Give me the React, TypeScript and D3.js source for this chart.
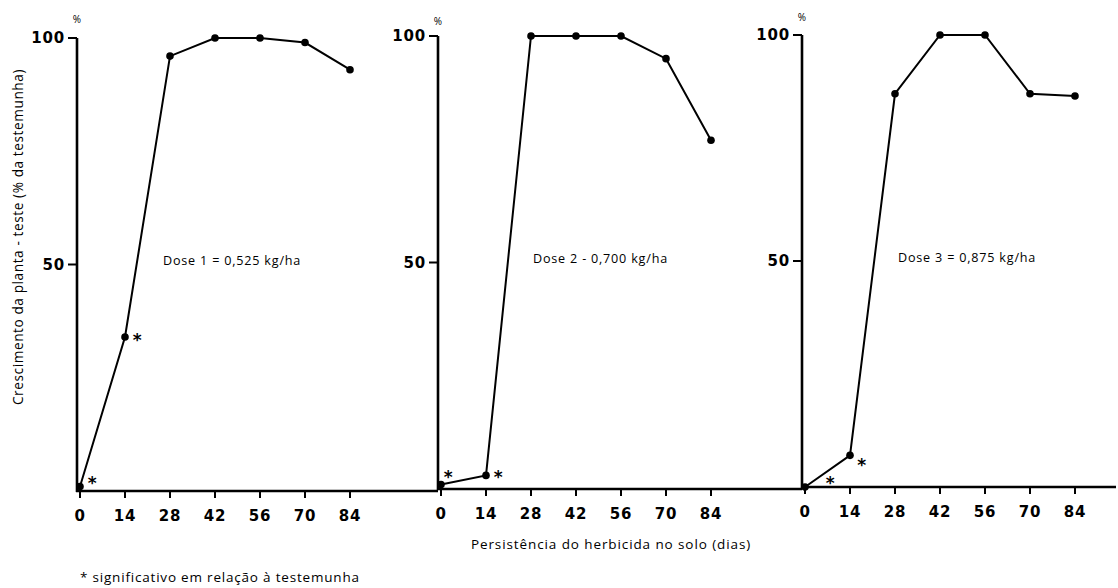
import React from 'react';
import * as d3 from 'd3';

// ---- data ----
const days = [0, 14, 28, 42, 56, 70, 84];
const dose1 = [1, 34, 96, 100, 100, 99, 93];
const dose2 = [1, 3, 100, 100, 100, 95, 77];
const dose3 = [0, 7, 87, 100, 100, 87, 86.5];
const doseLabels = ['Dose 1 = 0,525 kg/ha', 'Dose 2 - 0,700 kg/ha', 'Dose 3 = 0,875 kg/ha'];
const yTicks = [50, 100];
const xTicks = [0, 14, 28, 42, 56, 70, 84];
// significance marks, [day, value]
const stars1 = [[3.8, 2.3], [17.8, 34]];
const stars2 = [[2.2, 3.3], [17.8, 3.3]];
const stars3 = [[7.8, 1.6], [17.6, 5.6]];
const yTitle = 'Crescimento da planta - teste (% da testemunha)';
const xTitle = 'Persistência do herbicida no solo (dias)';
const footnote = '* significativo em relação à testemunha';

const series = [dose1, dose2, dose3];
const stars = [stars1, stars2, stars3];

// ---- layout ----
const W = 1118;
const H = 588;
const axisX = [77, 438, 802];
const baseY = [491, 489, 487];
const topY = [38, 36, 35];
const axisEnd = [438, 802, 1116];
const labelDx = [86, 95, 96];
const pctY = [23, 25, 21];

const tickFont = "'DejaVu Sans', sans-serif";
const textFont = "'Open Sans', 'Liberation Sans', sans-serif";

function Panel({ i }: { i: number }) {
  const ax = axisX[i];
  const x = d3.scaleLinear().domain([0, 84]).range([ax + 3, ax + 273]);
  const y = d3.scaleLinear().domain([0, 100]).range([baseY[i], topY[i]]);
  const data = days.map((d, k) => [d, series[i][k]] as [number, number]);
  const line = d3.line<[number, number]>().x(d => x(d[0])).y(d => y(d[1]));
  return (
    <g>
      {/* y axis */}
      <line x1={ax} x2={ax} y1={y(0) + 1} y2={y(100)} stroke="#000" strokeWidth={2.6} />
      {yTicks.map(t => (
        <g key={t}>
          <line x1={ax - 9} x2={ax} y1={y(t)} y2={y(t)} stroke="#000" strokeWidth={2} />
          <text x={ax - 12} y={y(t)} dy="0.36em" textAnchor="end" fontFamily={tickFont}
            fontWeight="bold" fontSize={15} letterSpacing={0.8} fill="#000">{t}</text>
        </g>
      ))}
      <text x={ax} y={pctY[i]} textAnchor="middle" fontFamily={textFont} fontSize={10} fill="#000">%</text>
      {/* x axis */}
      <line x1={ax - 1} x2={axisEnd[i]} y1={y(0)} y2={y(0)} stroke="#000" strokeWidth={2.6} />
      {xTicks.map(t => (
        <g key={t}>
          <line x1={x(t)} x2={x(t)} y1={y(0)} y2={y(0) + 7} stroke="#000" strokeWidth={2} />
          <text x={x(t)} y={y(0) + 30} textAnchor="middle" fontFamily={tickFont}
            fontWeight="bold" fontSize={15} letterSpacing={0.8} fill="#000">{t}</text>
        </g>
      ))}
      {/* series */}
      <path d={line(data) || ''} fill="none" stroke="#000" strokeWidth={2} />
      {data.map((d, k) => (
        <circle key={k} cx={x(d[0])} cy={y(d[1])} r={3.8} fill="#000" />
      ))}
      {stars[i].map((s, k) => (
        <text key={k} x={x(s[0])} y={y(s[1])} dy="0.52em" textAnchor="middle"
          fontFamily={tickFont} fontWeight="bold" fontSize={17} fill="#000">*</text>
      ))}
      <text x={ax + labelDx[i]} y={y(50) + 0.5} fontFamily={textFont} fontSize={12.6}
        letterSpacing={0.8} fill="#000">{doseLabels[i]}</text>
    </g>
  );
}

export default function App() {
  return (
    <svg width={W} height={H} style={{ position: 'absolute', left: 0, top: 0, background: '#fff' }}>
      <rect x={0} y={0} width={W} height={H} fill="#fff" />
      {[0, 1, 2].map(i => <Panel key={i} i={i} />)}
      <text transform="translate(23,237) rotate(-90)" textAnchor="middle" fontFamily={textFont}
        fontSize={13.6} letterSpacing={0.6} fill="#000">{yTitle}</text>
      <text x={611} y={549} textAnchor="middle" fontFamily={textFont} fontSize={13.5}
        letterSpacing={0.9} fill="#000">{xTitle}</text>
      <text x={80} y={582} fontFamily={textFont} fontSize={13.5} letterSpacing={0.8} fill="#000">{footnote}</text>
    </svg>
  );
}
